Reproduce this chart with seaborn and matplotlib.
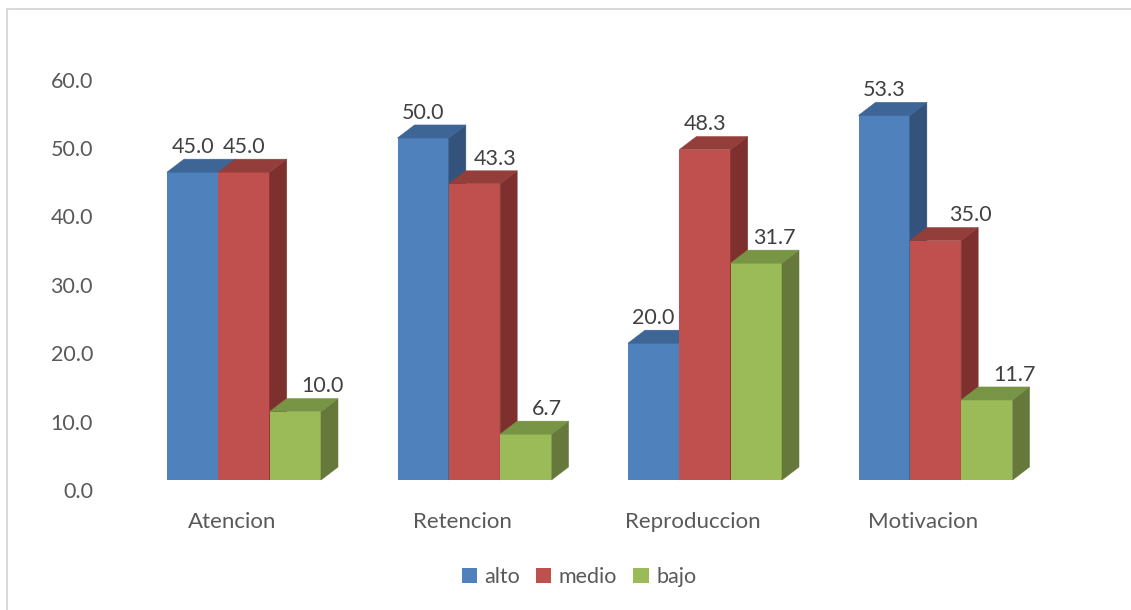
import matplotlib
matplotlib.use("Agg")
import matplotlib.pyplot as plt
import seaborn as sns
import pandas as pd
from matplotlib.patches import Polygon, Rectangle, Patch
from matplotlib.transforms import ScaledTranslation

# ---------------- data ----------------
categories = ["Atencion", "Retencion", "Reproduccion", "Motivacion"]
series = ["alto", "medio", "bajo"]
alto = [45.0, 50.0, 20.0, 53.3]
medio = [45.0, 43.3, 48.3, 35.0]
bajo = [10.0, 6.7, 31.7, 11.7]
y_ticks = [0, 10, 20, 30, 40, 50, 60]

df = pd.DataFrame({
    "categoria": categories * 3,
    "nivel": ["alto"] * 4 + ["medio"] * 4 + ["bajo"] * 4,
    "valor": alto + medio + bajo,
})

# ---------------- style ----------------
front = {"alto": "#4F81BD", "medio": "#C0504D", "bajo": "#9BBB59"}
topc = {"alto": "#3D6595", "medio": "#943E3B", "bajo": "#789445"}
sidec = {"alto": "#34537C", "medio": "#7E302E", "bajo": "#66793A"}
# horizontal shift (px) of each data label, Excel-like placement
label_shift = {"alto": [0, 0, 0, 0], "medio": [0, 21, 0, 35], "bajo": [27, 21, 18, 28]}

sns.set_theme(style="white")
plt.rcParams["font.family"] = ["Lato", "DejaVu Sans"]

W, H, DPI = 1131, 610, 100
fig = plt.figure(figsize=(W / DPI, H / DPI), dpi=DPI)
ax = fig.add_axes([100 / W, 130 / H, 980 / W, 420 / H])

sns.barplot(data=df, x="categoria", y="valor", hue="nivel", order=categories,
            hue_order=series, palette=front, width=0.668, saturation=1,
            legend=False, ax=ax, linewidth=0, errorbar=None)
ax.set_xlim(-0.6247, 3.6269)
ax.set_ylim(0, 61.4)

# depth offset in data units
p0 = ax.transData.transform((0, 0))
p1 = ax.transData.transform((1, 10))
px_x = p1[0] - p0[0]
px_y = (p1[1] - p0[1]) / 10
DX = 17 / px_x
DY = 13 / px_y

for j, s in enumerate(series):
    cont = ax.containers[j]
    for i, bar in enumerate(cont):
        x0 = bar.get_x()
        w = bar.get_width()
        x1 = x0 + w
        h = bar.get_height()
        bar.set_zorder(2 + 2 * j)
        top = Polygon([(x0, h), (x1, h), (x1 + DX, h + DY), (x0 + DX, h + DY)],
                      closed=True, facecolor=topc[s], edgecolor=topc[s], lw=0.4,
                      zorder=3 + 2 * j, clip_on=False)
        side = Polygon([(x1, 0), (x1, h), (x1 + DX, h + DY), (x1 + DX, DY)],
                       closed=True, facecolor=sidec[s], edgecolor=sidec[s], lw=0.4,
                       zorder=3 + 2 * j, clip_on=False)
        ax.add_patch(side)
        ax.add_patch(top)
        ax.annotate(f"{h:.1f}", xy=(x0 + w / 2, h + DY),
                    xytext=(label_shift[s][i] * 0.72, 4.5), textcoords="offset points",
                    ha="center", va="baseline", fontsize=15.5, color="#404040",
                    zorder=20, annotation_clip=False)

# axes cosmetics
for sp in ax.spines.values():
    sp.set_visible(False)
ax.set_xlabel("")
ax.set_ylabel("")
ax.set_yticks(y_ticks)
ax.set_yticklabels([f"{v:.1f}" for v in y_ticks])
ax.tick_params(axis="y", length=0, pad=5, labelsize=15.5, labelcolor="#595959")
ax.tick_params(axis="x", length=0, pad=23, labelsize=16, labelcolor="#595959")
ax.grid(False)

for t in ax.yaxis.get_major_ticks():
    t.label1.set_transform(t.label1.get_transform() +
                           ScaledTranslation(0, -10 / DPI, fig.dpi_scale_trans))
for t in ax.xaxis.get_major_ticks():
    t.label1.set_transform(t.label1.get_transform() +
                           ScaledTranslation(-12 / DPI, 0, fig.dpi_scale_trans))

# legend
handles = [Patch(facecolor=front[s], edgecolor="none", label=s) for s in series]
fig.legend(handles=handles, loc="center", bbox_to_anchor=(579 / W, 1 - 577 / H),
           ncol=3, frameon=False, handlelength=0.7, handleheight=0.7,
           handletextpad=0.35, columnspacing=0.75, fontsize=15.5,
           labelcolor="#595959")

# chart-area border
fig.patches.append(Rectangle((7 / W, -0.1), 1.2, 1.1 - 9 / H, transform=fig.transFigure,
                             fill=False, edgecolor="#D9D9D9", lw=1.5))

fig.savefig("out.png", dpi=DPI)
